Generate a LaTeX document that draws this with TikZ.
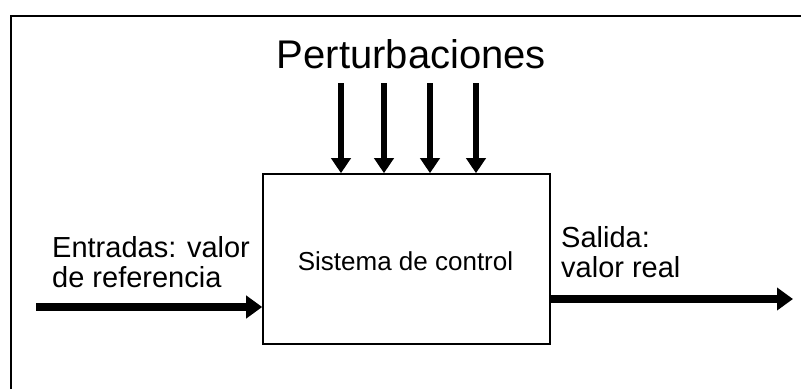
\documentclass[tikz,border=0pt]{standalone}
\usepackage{fontspec}
\setmainfont{Liberation Sans}
\usetikzlibrary{arrows.meta}
\begin{document}
\begin{tikzpicture}[x=1pt,y=-1pt,
  frame/.style={line width=2pt},
  sysbox/.style={draw,line width=1.6pt,minimum width=287pt,minimum height=170pt,inner sep=0pt},
  perturb/.style={line width=5.5pt,-{Triangle[width=19pt,length=15pt]}},
  flow/.style={line width=8pt,-{Triangle[width=22pt,length=16pt]}},
  lbl/.style={anchor=base west,inner sep=0pt,font=\fontsize{29pt}{29.5pt}\selectfont,align=left}]
\useasboundingbox (0,0) rectangle (801,389);
\coordinate (fa) at (11,389);
\coordinate (fb) at (11,16);
\coordinate (fc) at (805,16);
\draw[frame] (fa) -- (fb) -- (fc);
\node[sysbox] (sys) at (406.5,259) {};
\node[anchor=base,inner sep=0pt,font=\fontsize{26pt}{26pt}\selectfont] (sl) at (405.5,270) {Sistema de control};
\node[anchor=base,inner sep=0pt,font=\fontsize{40pt}{40pt}\selectfont] (pt) at (411.5,68) {Perturbaciones};
\foreach \x/\n in {341/1,384/2,430/3,476/4} {
  \coordinate (p\n) at (\x,83);
  \draw[perturb] (p\n) -- (p\n |- sys.north);
}
\coordinate (in) at (36,307);
\draw[flow] (in) -- (in -| sys.west);
\coordinate (out) at (793,299);
\draw[flow] (out -| sys.east) -- (out);
\node[lbl] (ent) at (52,287) {Entradas: valor\\de referencia};
\node[lbl] (sal) at (561,277) {Salida:\\valor real};
\end{tikzpicture}
\end{document}
